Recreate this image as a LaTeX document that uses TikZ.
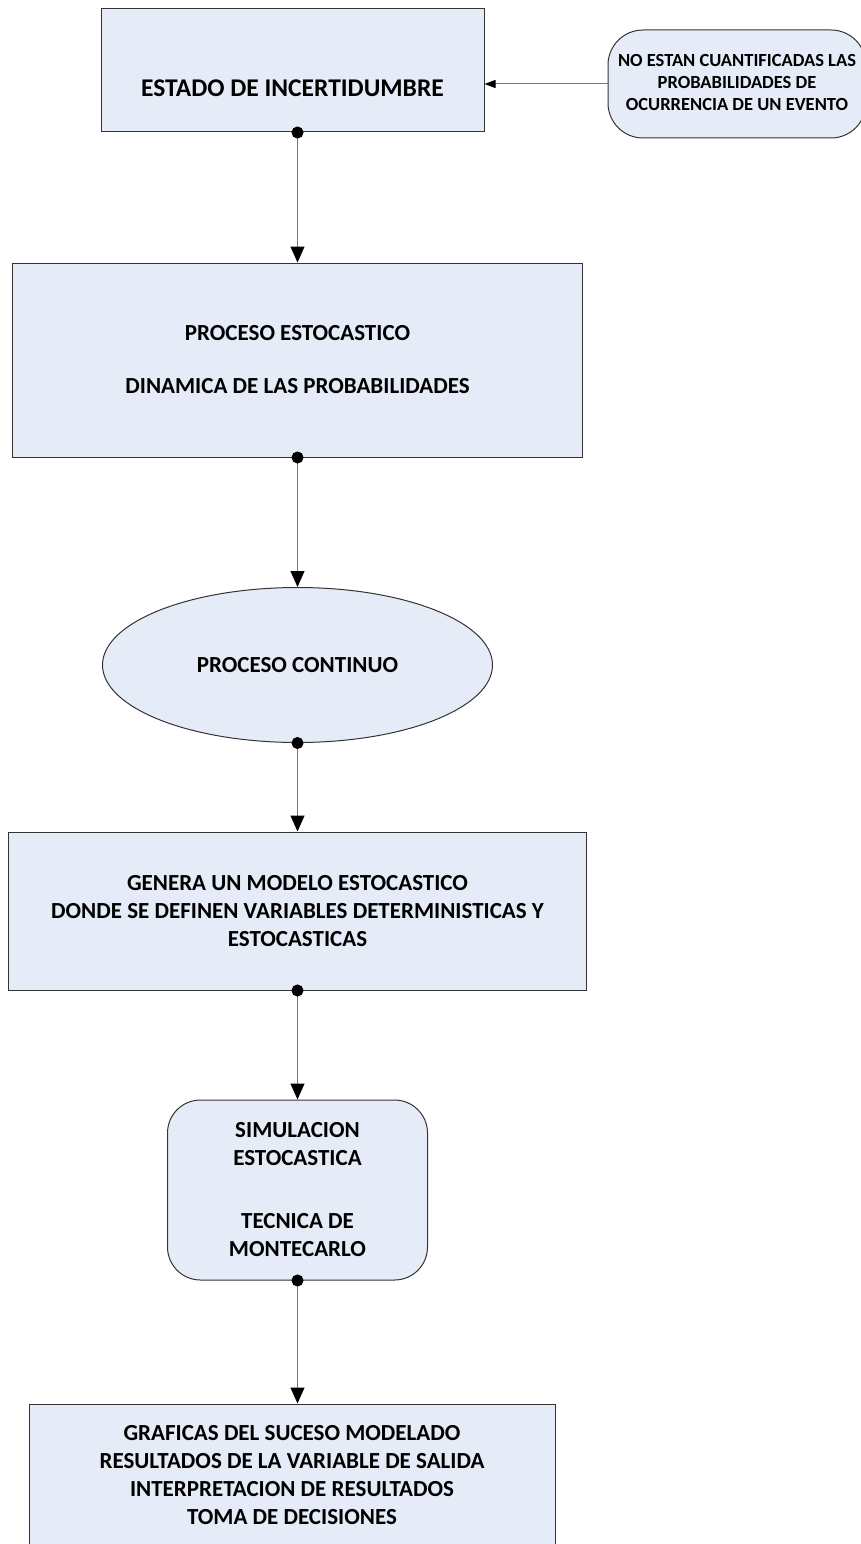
\documentclass[tikz,border=0pt]{standalone}
\usepackage{fontspec}
\setmainfont{Carlito}
\usepackage{tikz}
\usetikzlibrary{arrows.meta}
\usetikzlibrary{shapes.geometric,positioning}
\definecolor{cajafondo}{RGB}{230,236,247}
\definecolor{lineagris}{RGB}{120,120,120}

\tikzset{
  caja/.style={draw=black!80, fill=cajafondo, line width=1pt, inner sep=0pt, align=center,
    font=\bfseries\fontsize{23}{28}\selectfont},
  flecha/.style={draw=lineagris, line width=1pt, shorten <=-6pt,
    arrows={Circle[length=12pt,color=black]-Triangle[length=16pt,width=14pt,color=black]}},
}

\begin{document}
\begin{tikzpicture}[x=1pt,y=-1pt]
    		\useasboundingbox (0,0) rectangle (861,1544);
    		% Kaestchen
    		\node[caja, minimum width=383pt, minimum height=123pt, font=\bfseries\fontsize{25.5}{30}\selectfont]
    		  (estado) at (292.5,70.5)
    		  {\raisebox{-26pt}[0pt][0pt]{ESTADO DE INCERTIDUMBRE}};
    		\node[caja, rounded corners=35pt, minimum width=258pt, minimum height=108pt,
    		  font=\bfseries\fontsize{18.5}{22}\selectfont] (nota) at (737,84)
    		  {\raisebox{5pt}{\begin{tabular}{@{}c@{}}NO ESTAN CUANTIFICADAS LAS\\PROBABILIDADES DE\\OCURRENCIA DE UN EVENTO\end{tabular}}};
    		\node[caja, minimum width=570pt, minimum height=194pt] (proceso) at (297.5,360)
    		  {PROCESO ESTOCASTICO\\[25pt]DINAMICA DE LAS PROBABILIDADES};
    		\node[caja, ellipse, minimum width=390pt, minimum height=155pt] (continuo) at (297.5,665)
    		  {PROCESO CONTINUO};
    		\node[caja, minimum width=578pt, minimum height=158pt] (modelo) at (297.5,911)
    		  {GENERA UN MODELO ESTOCASTICO\\DONDE SE DEFINEN VARIABLES DETERMINISTICAS Y\\ESTOCASTICAS};
    		\node[caja, rounded corners=33pt, minimum width=260pt, minimum height=180pt] (simulacion) at (297.5,1190)
    		  {SIMULACION\\ESTOCASTICA\\[35pt]TECNICA DE\\MONTECARLO};
    		\node[caja, minimum width=526pt, minimum height=142pt] (graficas) at (292,1475)
    		  {GRAFICAS DEL SUCESO MODELADO\\RESULTADOS DE LA VARIABLE DE SALIDA\\INTERPRETACION DE RESULTADOS\\TOMA DE DECISIONES};
    		
    		% Pfeile
    		\draw[draw=lineagris, line width=1pt, -{Triangle[length=11pt,width=8pt,color=black]}]
    		  (nota.west) -- (nota.west -| estado.east);
    		\draw[flecha] (proceso.north |- estado.south) -- (proceso.north);
    		\draw[flecha] (proceso.south) -- (continuo.north);
    		\draw[flecha] (continuo.south) -- (modelo.north);
    		\draw[flecha] (modelo.south) -- (simulacion.north);
    		\draw[flecha] (simulacion.south) -- (simulacion.south |- graficas.north);
    		
    		\end{tikzpicture}
\end{document}
